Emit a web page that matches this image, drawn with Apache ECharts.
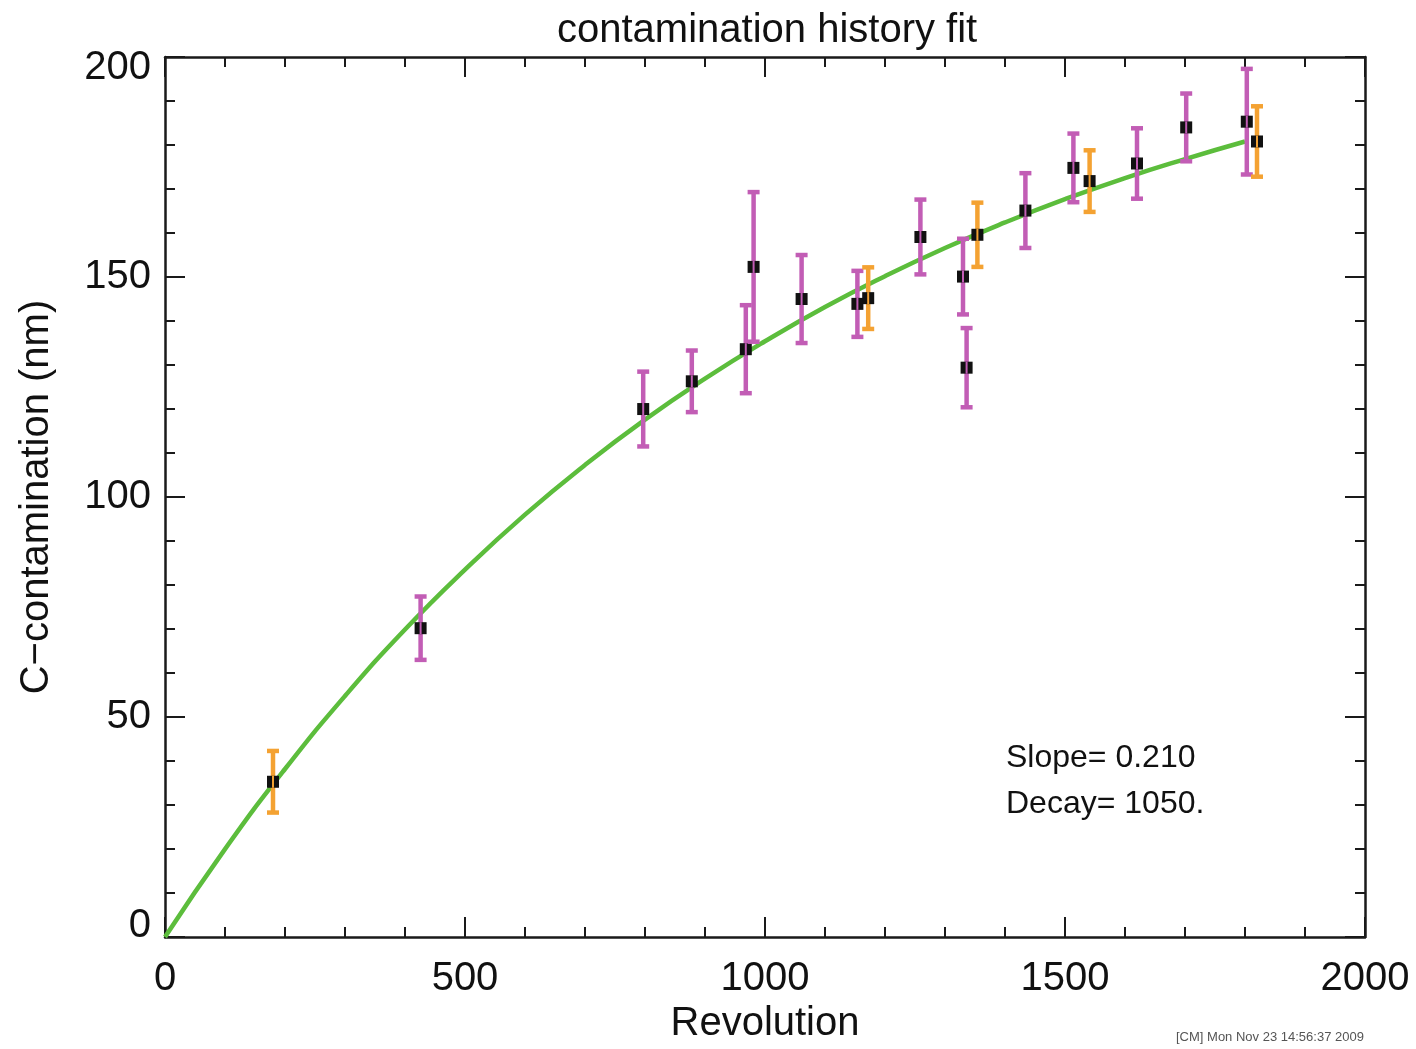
<!DOCTYPE html>
<html>
<head>
<meta charset="utf-8">
<script src="https://cdn.jsdelivr.net/npm/echarts@6/dist/echarts.min.js"></script>
<style>html,body{margin:0;padding:0;background:#fff}#c{width:1416px;height:1049px}</style>
</head>
<body>
<div id="c"></div>
<script>
// ---- data ----
const magentaX   = [426, 797, 878, 968, 981, 1061, 1154, 1259, 1330, 1336, 1434, 1514, 1620, 1702, 1803];
const magentaY   = [70.2, 120.0, 126.3, 133.6, 152.3, 145.0, 143.9, 159.1, 150.1, 129.4, 165.1, 174.8, 175.8, 184.0, 185.3];
const magentaErr = [7.2, 8.5, 7.0, 10.0, 17.0, 10.0, 7.5, 8.5, 8.6, 9.0, 8.5, 7.8, 8.0, 7.7, 12.0];
const orangeX    = [180, 1172, 1354, 1541, 1820];
const orangeY    = [35.3, 145.2, 159.6, 171.8, 180.8];
const orangeErr  = [7.0, 7.0, 7.3, 7.0, 8.0];
const fitX = [0, 100, 200, 300, 400, 500, 600, 700, 800, 900, 1000, 1100, 1200, 1300, 1400, 1500, 1600, 1700, 1800];
const fitY = [0, 20.0, 38.2, 54.8, 69.9, 83.5, 96.0, 107.3, 117.6, 126.9, 135.4, 143.2, 150.2, 156.6, 162.4, 167.7, 172.5, 176.8, 180.8];
const xTicks = [0, 500, 1000, 1500, 2000];
const yTicks = [0, 50, 100, 150, 200];

const FONT = "'Liberation Sans', Arial, Helvetica, sans-serif";
const AXC = '#1a1a1a';

function zip3(a, b, c) { return a.map((v, i) => [v, b[i], c[i]]); }

function errRender(color) {
  return function (params, api) {
    const x = api.value(0), y = api.value(1), e = api.value(2);
    const top = api.coord([x, y + e]);
    const bot = api.coord([x, y - e]);
    const mid = api.coord([x, y]);
    const cw = 6;
    const st = { stroke: color, lineWidth: 4.5 };
    return {
      type: 'group',
      children: [
        { type: 'line', shape: { x1: top[0], y1: top[1], x2: bot[0], y2: bot[1] }, style: st },
        { type: 'line', shape: { x1: top[0] - cw, y1: top[1], x2: top[0] + cw, y2: top[1] }, style: st },
        { type: 'line', shape: { x1: bot[0] - cw, y1: bot[1], x2: bot[0] + cw, y2: bot[1] }, style: st },
        { type: 'rect', shape: { x: mid[0] - 6, y: mid[1] - 6, width: 12, height: 12 },
          style: { fill: '#111', stroke: null } },
        { type: 'line', shape: { x1: mid[0], y1: mid[1] - 6, x2: mid[0], y2: mid[1] + 6 },
          style: { stroke: color, lineWidth: 2 } }
      ]
    };
  };
}

function axisBase() {
  return {
    type: 'value', min: 0,
    axisLine: { show: true, onZero: false, lineStyle: { color: AXC, width: 2.5 } },
    axisTick: { show: true, inside: true, length: 20, lineStyle: { color: AXC, width: 2 } },
    minorTick: { show: true, splitNumber: 5, length: 10, lineStyle: { color: AXC, width: 2 } },
    splitLine: { show: false }
  };
}

const chart = echarts.init(document.getElementById('c'));
chart.setOption({
  animation: false,
  backgroundColor: '#fff',
  title: {
    text: 'contamination history fit', left: 552, top: 6,
    textStyle: { fontFamily: FONT, fontSize: 40, fontWeight: 'normal', color: '#111' }
  },
  grid: { left: 165, right: 51, top: 57, bottom: 104 },
  xAxis: [
    Object.assign(axisBase(), {
      position: 'bottom', max: 2000, interval: 500,
      name: 'Revolution', nameLocation: 'middle', nameGap: 62,
      nameTextStyle: { fontFamily: FONT, fontSize: 40, color: '#111' },
      axisLabel: { show: true, margin: 22, fontFamily: FONT, fontSize: 40, color: '#111',
        formatter: v => xTicks.includes(v) ? String(v) : '' }
    }),
    Object.assign(axisBase(), {
      position: 'top', max: 2000, interval: 500, axisLabel: { show: false }
    })
  ],
  yAxis: [
    Object.assign(axisBase(), {
      position: 'left', max: 200, interval: 50,
      name: 'C\u2212contamination (nm)', nameLocation: 'middle', nameGap: 108,
      nameTextStyle: { fontFamily: FONT, fontSize: 40, color: '#111' },
      axisLabel: { show: true, margin: 14, fontFamily: FONT, fontSize: 40, color: '#111',
        formatter: v => {
          if (!yTicks.includes(v)) return '';
          if (v === 0) return '{b|0}';
          if (v === 200) return '{t|200}';
          return String(v);
        },
        rich: {
          b: { fontFamily: FONT, fontSize: 40, color: '#111', padding: [0, 0, 22, 0] },
          t: { fontFamily: FONT, fontSize: 40, color: '#111', padding: [22, 0, 0, 0] }
        }
      }
    }),
    Object.assign(axisBase(), {
      position: 'right', max: 200, interval: 50, axisLabel: { show: false }
    })
  ],
  series: [
    {
      type: 'line', name: 'fit', xAxisIndex: 0, yAxisIndex: 0,
      data: fitX.map((x, i) => [x, fitY[i]]),
      smooth: true, showSymbol: false, symbol: 'none',
      lineStyle: { color: '#5cbd3c', width: 4.5 }, z: 2
    },
    {
      type: 'custom', name: 'magenta', xAxisIndex: 0, yAxisIndex: 0,
      data: zip3(magentaX, magentaY, magentaErr),
      renderItem: errRender('#c25db5'), z: 3
    },
    {
      type: 'custom', name: 'orange', xAxisIndex: 0, yAxisIndex: 0,
      data: zip3(orangeX, orangeY, orangeErr),
      renderItem: errRender('#f4a232'), z: 3
    }
  ],
  graphic: [
    { type: 'text', left: 1006, top: 742,
      style: { text: 'Slope= 0.210', fontFamily: FONT, fontSize: 32, fill: '#111' } },
    { type: 'text', left: 1006, top: 788,
      style: { text: 'Decay= 1050.', fontFamily: FONT, fontSize: 32, fill: '#111' } },
    { type: 'text', left: 1176, top: 1031,
      style: { text: '[CM] Mon Nov 23 14:56:37 2009', fontFamily: FONT, fontSize: 13, fill: '#555' } }
  ]
});
</script>
</body>
</html>
